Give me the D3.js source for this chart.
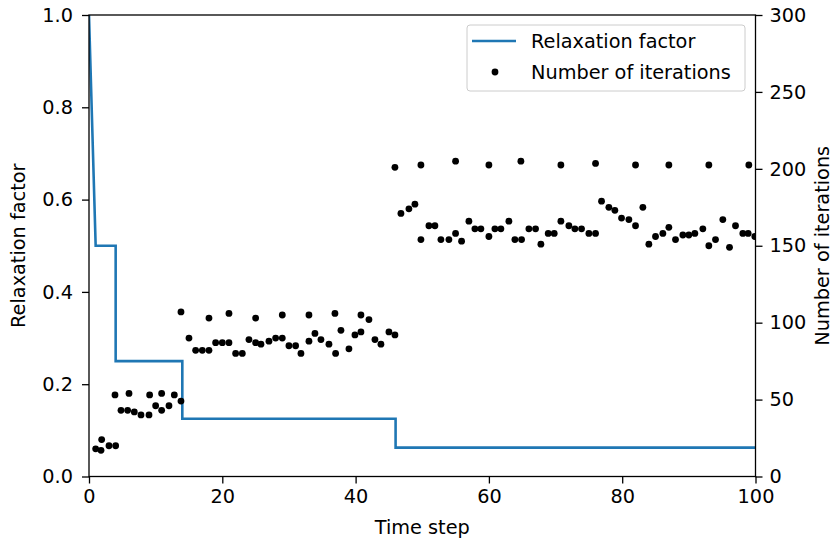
<!DOCTYPE html>
<html>
<head>
<meta charset="utf-8">
<script src="https://cdn.jsdelivr.net/npm/d3@7"></script>
<style>
  html, body { margin: 0; padding: 0; background: #fff; }
  svg { display: block; }
  text { font-family: "DejaVu Sans", sans-serif; fill: #000; }
</style>
</head>
<body>
<svg id="chart" width="833" height="543"></svg>
<script>
// Relaxation factor schedule (breakpoints of the line)
const relaxTimes  = [0, 1, 4, 4, 14, 14, 46, 46, 100];
const relaxValues = [1.0, 0.5, 0.5, 0.25, 0.25, 0.125, 0.125, 0.0625, 0.0625];

// Number of iterations per time step
const stepTimes = [
  1, 1.8, 1.9, 3, 4, 3.9, 4.8, 5.8, 6, 6.8, 7.8, 9, 9.1, 10, 10.9, 10.9, 12, 12.8, 13.8, 13.8,
  15, 16, 17, 18, 18, 19, 20, 21, 21, 22, 23, 24, 25, 25, 25.8, 27, 28, 29, 29, 30,
  31, 31.8, 33, 33, 33.9, 34.8, 36, 36.9, 37, 37.8, 39, 39.9, 40.8, 40.8, 42, 42.9, 43.8, 45, 45.9,
  45.9, 46.8, 48, 48.9, 49.8, 49.8, 51, 51.9, 52.8, 54, 55, 55, 55.9, 57, 57.9, 58.8, 60, 60,
  60.9, 61.8, 63, 63.9, 64.8, 64.9, 66, 67, 67.8, 68.9, 69.8, 70.8, 70.8, 72, 72.9, 73.9, 75, 76, 76,
  76.9, 78, 78.9, 79.9, 81, 82, 82, 83.1, 84, 85, 86.1, 87, 87, 88, 89.1, 90, 90.9, 92.1, 93, 93,
  94, 95.1, 96.1, 97, 98.1, 98.9, 99, 99.9
];
const iterCounts = [
  18, 17, 24, 20, 20, 53, 43, 43, 54, 42, 40, 40, 53, 46, 54, 43, 46, 53, 49, 107,
  90, 82, 82, 82, 103, 87, 87, 87, 106, 80, 80, 89, 87, 103, 86, 88, 90, 90, 105, 85,
  85, 80, 105, 88, 93, 89, 86, 106, 80, 95, 83, 92, 94, 105, 102, 89, 86, 94, 92,
  201, 171, 174, 177, 202.5, 154, 163, 163, 154, 154, 205, 158, 153, 166, 161, 161, 202.5, 156,
  161, 161, 166, 154, 205, 154, 161, 161, 151, 158, 158, 202.5, 166, 163, 161, 161, 158, 158, 203.5,
  179, 175, 173, 168, 167, 202.5, 163, 175, 151, 156, 158, 202.5, 162, 154, 157, 157, 158, 161, 202.5, 150,
  154, 167, 149, 163, 158, 158, 202.5, 156
];

const xTicks = [0, 20, 40, 60, 80, 100];
const leftTicks = [0.0, 0.2, 0.4, 0.6, 0.8, 1.0];
const rightTicks = [0, 50, 100, 150, 200, 250, 300];

const svg = d3.select("#chart");
const plot = { left: 89, right: 755.5, top: 15, bottom: 476.5 };
const fontSize = 19.3;

const x = d3.scaleLinear().domain([0, 100]).range([plot.left, plot.right]);
const yL = d3.scaleLinear().domain([0, 1]).range([plot.bottom, plot.top]);
const yR = d3.scaleLinear().domain([0, 300]).range([plot.bottom, plot.top]);

// Data marks, clipped to the axes area
svg.append("clipPath").attr("id", "clip")
  .append("rect")
  .attr("x", plot.left).attr("y", plot.top)
  .attr("width", plot.right - plot.left).attr("height", plot.bottom - plot.top);

const relax = relaxTimes.map((t, i) => [t, relaxValues[i]]);
svg.append("path")
  .datum(relax)
  .attr("clip-path", "url(#clip)")
  .attr("fill", "none")
  .attr("stroke", "#1f77b4")
  .attr("stroke-width", 2.6)
  .attr("stroke-linejoin", "miter")
  .attr("d", d3.line().x(d => x(d[0])).y(d => yL(d[1])));

svg.append("g")
  .attr("clip-path", "url(#clip)")
  .selectAll("circle")
  .data(stepTimes.map((t, i) => [t, iterCounts[i]]))
  .join("circle")
  .attr("cx", d => x(d[0]))
  .attr("cy", d => yR(d[1]))
  .attr("r", 3.4)
  .attr("fill", "#000");

// Axes
function styleAxis(g) {
  g.select(".domain").remove();
  g.selectAll(".tick line").attr("stroke", "#000").attr("stroke-width", 1.3);
  g.selectAll(".tick text")
    .attr("font-size", fontSize)
    .attr("font-family", "DejaVu Sans, sans-serif")
    .attr("fill", "#000");
}

svg.append("g")
  .attr("transform", `translate(0,${plot.bottom})`)
  .call(d3.axisBottom(x).tickValues(xTicks).tickFormat(d3.format("d")).tickSize(7).tickPadding(6))
  .call(styleAxis);

svg.append("g")
  .attr("transform", `translate(${plot.left},0)`)
  .call(d3.axisLeft(yL).tickValues(leftTicks).tickFormat(d3.format(".1f")).tickSize(7).tickPadding(9))
  .call(styleAxis);

svg.append("g")
  .attr("transform", `translate(${plot.right},0)`)
  .call(d3.axisRight(yR).tickValues(rightTicks).tickFormat(d3.format("d")).tickSize(7).tickPadding(7))
  .call(styleAxis);

// Frame
svg.append("rect")
  .attr("x", plot.left).attr("y", plot.top)
  .attr("width", plot.right - plot.left).attr("height", plot.bottom - plot.top)
  .attr("fill", "none").attr("stroke", "#000").attr("stroke-width", 1.3);

// Axis titles
svg.append("text")
  .attr("x", (plot.left + plot.right) / 2).attr("y", 534)
  .attr("text-anchor", "middle").attr("font-size", fontSize)
  .text("Time step");

svg.append("text")
  .attr("transform", `translate(25,${(plot.top + plot.bottom) / 2}) rotate(-90)`)
  .attr("text-anchor", "middle").attr("font-size", fontSize)
  .text("Relaxation factor");

svg.append("text")
  .attr("transform", `translate(829,${(plot.top + plot.bottom) / 2}) rotate(-90)`)
  .attr("text-anchor", "middle").attr("font-size", fontSize)
  .text("Number of iterations");

// Legend
const legend = svg.append("g").attr("transform", "translate(467,25)");
legend.append("rect")
  .attr("x", 0).attr("y", 0).attr("width", 278).attr("height", 66)
  .attr("rx", 3).attr("fill", "#fff").attr("fill-opacity", 0.8)
  .attr("stroke", "#ccc").attr("stroke-width", 1);
legend.append("line")
  .attr("x1", 5).attr("x2", 49).attr("y1", 16).attr("y2", 16)
  .attr("stroke", "#1f77b4").attr("stroke-width", 2.6);
legend.append("circle")
  .attr("cx", 28).attr("cy", 47).attr("r", 3.4).attr("fill", "#000");
legend.append("text")
  .attr("x", 64).attr("y", 16).attr("dy", "0.35em").attr("font-size", fontSize)
  .text("Relaxation factor");
legend.append("text")
  .attr("x", 64).attr("y", 47).attr("dy", "0.35em").attr("font-size", fontSize)
  .text("Number of iterations");
</script>
</body>
</html>
